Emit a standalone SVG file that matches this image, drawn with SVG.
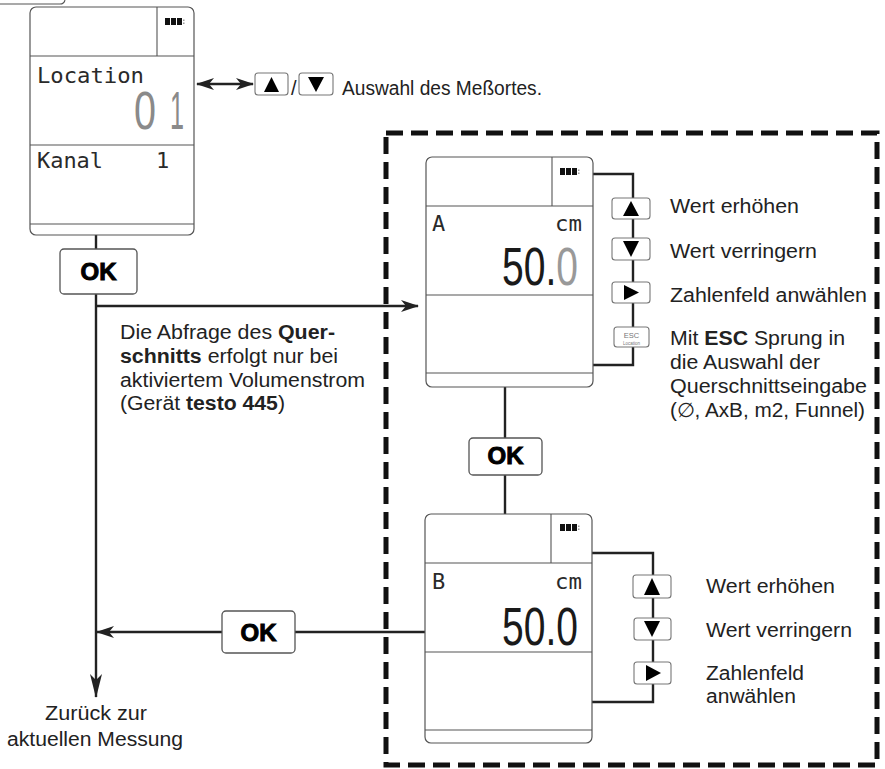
<svg xmlns="http://www.w3.org/2000/svg" width="885" height="769" viewBox="0 0 885 769">
<defs>
<style>
.dev{fill:#fff;stroke:#555;stroke-width:1.2}
.dl{fill:none;stroke:#555;stroke-width:1.1}
.lcd{font-family:"DejaVu Sans Mono","Liberation Mono",monospace;font-size:22px;fill:#2a2a2a}
.seg{font-family:"Liberation Sans",Arial,sans-serif;font-size:53px;fill:#1a1a1a}
.lbl{font-family:"Liberation Sans",Arial,sans-serif;font-size:20px;fill:#222}
.b{font-weight:bold}
.okb{fill:#fff;stroke:#555;stroke-width:1.3}
.okt{font-family:"Liberation Sans",Arial,sans-serif;font-size:24px;font-weight:bold;fill:#000;stroke:#000;stroke-width:1;text-anchor:middle}
.btn{fill:#fff;stroke:#777;stroke-width:1.1}
.con{fill:none;stroke:#222;stroke-width:2.4}
.tri{fill:#000}
</style>
<linearGradient id="segA" gradientUnits="userSpaceOnUse" x1="502" y1="0" x2="578" y2="0">
<stop offset="0" stop-color="#1a1a1a"/>
<stop offset="0.71" stop-color="#1a1a1a"/>
<stop offset="0.71" stop-color="#999"/>
<stop offset="1" stop-color="#999"/>
</linearGradient>
<marker id="ah" viewBox="0 0 24 12" refX="23" refY="6" markerWidth="24" markerHeight="12" markerUnits="userSpaceOnUse" orient="auto">
<path d="M0,0 L24,6 L0,12 L6,6 z" fill="#222"/>
</marker>
<marker id="ahs" viewBox="0 0 18 12" refX="17" refY="6" markerWidth="18" markerHeight="12" markerUnits="userSpaceOnUse" orient="auto-start-reverse">
<path d="M0,0 L18,6 L0,12 L5,6 z" fill="#222"/>
</marker>
<g id="batt">
<rect x="0" y="0" width="5" height="7" fill="#111"/>
<rect x="6" y="0" width="5" height="7" fill="#111"/>
<rect x="12" y="0" width="5" height="7" fill="#111"/>
<rect x="18" y="1.5" width="1.5" height="1.5" fill="#999"/>
<rect x="18" y="4.5" width="1.5" height="1.5" fill="#999"/>
</g>
</defs>
<rect width="885" height="769" fill="#fff"/>

<path d="M0,4 L60,4 Q64,4 65,0" fill="none" stroke="#555" stroke-width="1.1"/>

<g id="dashed-frame">
<rect x="386" y="133" width="491" height="632" fill="none" stroke="#111" stroke-width="5" stroke-dasharray="17 8"/>
</g>

<g id="connectors">
<line class="con" x1="96" y1="235" x2="96" y2="249"/>
<line class="con" x1="96" y1="294" x2="96" y2="697" marker-end="url(#ah)"/>
<line class="con" x1="96" y1="306" x2="418" y2="306" marker-end="url(#ahs)"/>
<line class="con" x1="197" y1="84" x2="253" y2="84" marker-start="url(#ahs)" marker-end="url(#ahs)"/>
<polyline class="con" points="593,174 633,174 633,365 593,365"/>
<line class="con" x1="505" y1="387" x2="505" y2="438"/>
<line class="con" x1="505" y1="475" x2="505" y2="514"/>
<polyline class="con" points="592,553 653,553 653,702 592,702"/>
<line class="con" x1="425" y1="632" x2="295" y2="632"/>
<line class="con" x1="222" y1="632" x2="97" y2="632" marker-end="url(#ahs)"/>
</g>

<g id="dev-location">
<rect class="dev" x="30" y="7" width="164" height="228" rx="6"/>
<line class="dl" x1="30" y1="56" x2="194" y2="56"/>
<line class="dl" x1="157" y1="7" x2="157" y2="56"/>
<line class="dl" x1="30" y1="145" x2="194" y2="145"/>
<line class="dl" x1="30" y1="224" x2="194" y2="224"/>
<use href="#batt" x="165" y="18"/>
<text class="lcd" x="37" y="83" textLength="107" lengthAdjust="spacingAndGlyphs">Location</text>
<text class="seg" y="129" style="fill:#8a8a8a"><tspan x="134" textLength="22" lengthAdjust="spacingAndGlyphs">0</tspan><tspan x="170" textLength="14" lengthAdjust="spacingAndGlyphs">1</tspan></text>
<text class="lcd" x="37" y="168" textLength="66" lengthAdjust="spacingAndGlyphs">Kanal</text>
<text class="lcd" x="156" y="168">1</text>
</g>

<g id="sel-location">
<rect class="btn" x="255" y="73" width="33" height="22" rx="3"/>
<polygon class="tri" points="264,92 279,92 271.5,77"/>
<text class="lbl" x="291" y="95" font-size="16">/</text>
<rect class="btn" x="299" y="73" width="34" height="22" rx="3"/>
<polygon class="tri" points="308,77 324,77 316,92"/>
<text class="lbl" x="342" y="95" textLength="200" lengthAdjust="spacingAndGlyphs">Auswahl des Meßortes.</text>
</g>

<g id="ok1">
<rect class="okb" x="60" y="249" width="77" height="45" rx="4"/>
<text class="okt" x="98.5" y="280">OK</text>
</g>

<g id="note-querschnitt">
<text class="lbl" x="120" y="339" textLength="215" lengthAdjust="spacingAndGlyphs">Die Abfrage des <tspan class="b">Quer-</tspan></text>
<text class="lbl" x="120" y="363" textLength="218" lengthAdjust="spacingAndGlyphs"><tspan class="b">schnitts</tspan> erfolgt nur bei</text>
<text class="lbl" x="120" y="387" textLength="245" lengthAdjust="spacingAndGlyphs">aktiviertem Volumenstrom</text>
<text class="lbl" x="120" y="410" textLength="165" lengthAdjust="spacingAndGlyphs">(Gerät <tspan class="b">testo 445</tspan>)</text>
</g>

<g id="dev-a">
<rect class="dev" x="426" y="157" width="167" height="230" rx="6"/>
<line class="dl" x1="426" y1="206" x2="593" y2="206"/>
<line class="dl" x1="552" y1="157" x2="552" y2="206"/>
<line class="dl" x1="426" y1="295" x2="593" y2="295"/>
<line class="dl" x1="426" y1="373" x2="593" y2="373"/>
<use href="#batt" x="560" y="168"/>
<text class="lcd" x="432" y="231">A</text>
<text class="lcd" x="555" y="231" textLength="27" lengthAdjust="spacingAndGlyphs">cm</text>
<text class="seg" x="502" y="285" textLength="76" lengthAdjust="spacingAndGlyphs" style="fill:url(#segA)">50.0</text>
</g>

<g id="keys-a">
<rect class="btn" x="612" y="198" width="38" height="21" rx="3"/>
<polygon class="tri" points="623,216 639,216 631,201"/>
<rect class="btn" x="612" y="238" width="38" height="22" rx="3"/>
<polygon class="tri" points="623,241 639,241 631,257"/>
<rect class="btn" x="612" y="282" width="38" height="21" rx="3"/>
<polygon class="tri" points="624,285 624,300 639,292.5"/>
<rect class="btn" x="614" y="327" width="35" height="20" rx="3"/>
<text x="631.5" y="338" font-family="Liberation Sans,Arial,sans-serif" font-size="7.5" fill="#777" text-anchor="middle">ESC</text>
<text x="631.5" y="344.5" font-family="Liberation Sans,Arial,sans-serif" font-size="4.5" fill="#777" text-anchor="middle">Location</text>
<text class="lbl" x="670" y="213" textLength="129" lengthAdjust="spacingAndGlyphs">Wert erhöhen</text>
<text class="lbl" x="670" y="258" textLength="147" lengthAdjust="spacingAndGlyphs">Wert verringern</text>
<text class="lbl" x="670" y="302" textLength="197" lengthAdjust="spacingAndGlyphs">Zahlenfeld anwählen</text>
<text class="lbl" x="670" y="345" textLength="175" lengthAdjust="spacingAndGlyphs">Mit <tspan class="b">ESC</tspan> Sprung in</text>
<text class="lbl" x="670" y="369" textLength="150" lengthAdjust="spacingAndGlyphs">die Auswahl der</text>
<text class="lbl" x="670" y="393" textLength="197" lengthAdjust="spacingAndGlyphs">Querschnittseingabe</text>
<text class="lbl" x="670" y="417" textLength="195" lengthAdjust="spacingAndGlyphs">(∅, AxB, m2, Funnel)</text>
</g>

<g id="ok2">
<rect class="okb" x="469" y="438" width="73" height="37" rx="4"/>
<text class="okt" x="505.5" y="464">OK</text>
</g>

<g id="dev-b">
<rect class="dev" x="425" y="514" width="167" height="229" rx="6"/>
<line class="dl" x1="425" y1="563" x2="592" y2="563"/>
<line class="dl" x1="551" y1="514" x2="551" y2="563"/>
<line class="dl" x1="425" y1="652" x2="592" y2="652"/>
<line class="dl" x1="425" y1="730" x2="592" y2="730"/>
<use href="#batt" x="560" y="524"/>
<text class="lcd" x="432" y="589">B</text>
<text class="lcd" x="555" y="589" textLength="27" lengthAdjust="spacingAndGlyphs">cm</text>
<text class="seg" x="502" y="645" textLength="76" lengthAdjust="spacingAndGlyphs">50.0</text>
</g>

<g id="keys-b">
<rect class="btn" x="633" y="575" width="38" height="23" rx="3"/>
<polygon class="tri" points="644,595 660,595 652,578"/>
<rect class="btn" x="634" y="618" width="37" height="22" rx="3"/>
<polygon class="tri" points="644,621 660,621 652,637"/>
<rect class="btn" x="634" y="662" width="37" height="22" rx="3"/>
<polygon class="tri" points="646,665 646,681 661,673"/>
<text class="lbl" x="706" y="593" textLength="129" lengthAdjust="spacingAndGlyphs">Wert erhöhen</text>
<text class="lbl" x="706" y="637" textLength="146" lengthAdjust="spacingAndGlyphs">Wert verringern</text>
<text class="lbl" x="706" y="680" textLength="98" lengthAdjust="spacingAndGlyphs">Zahlenfeld</text>
<text class="lbl" x="706" y="703" textLength="90" lengthAdjust="spacingAndGlyphs">anwählen</text>
</g>

<g id="ok3">
<rect class="okb" x="222" y="611" width="73" height="42" rx="4"/>
<text class="okt" x="258.5" y="641">OK</text>
</g>

<g id="back-label">
<text class="lbl" x="45" y="720" textLength="102" lengthAdjust="spacingAndGlyphs">Zurück zur</text>
<text class="lbl" x="7" y="746" textLength="176" lengthAdjust="spacingAndGlyphs">aktuellen Messung</text>
</g>
</svg>
